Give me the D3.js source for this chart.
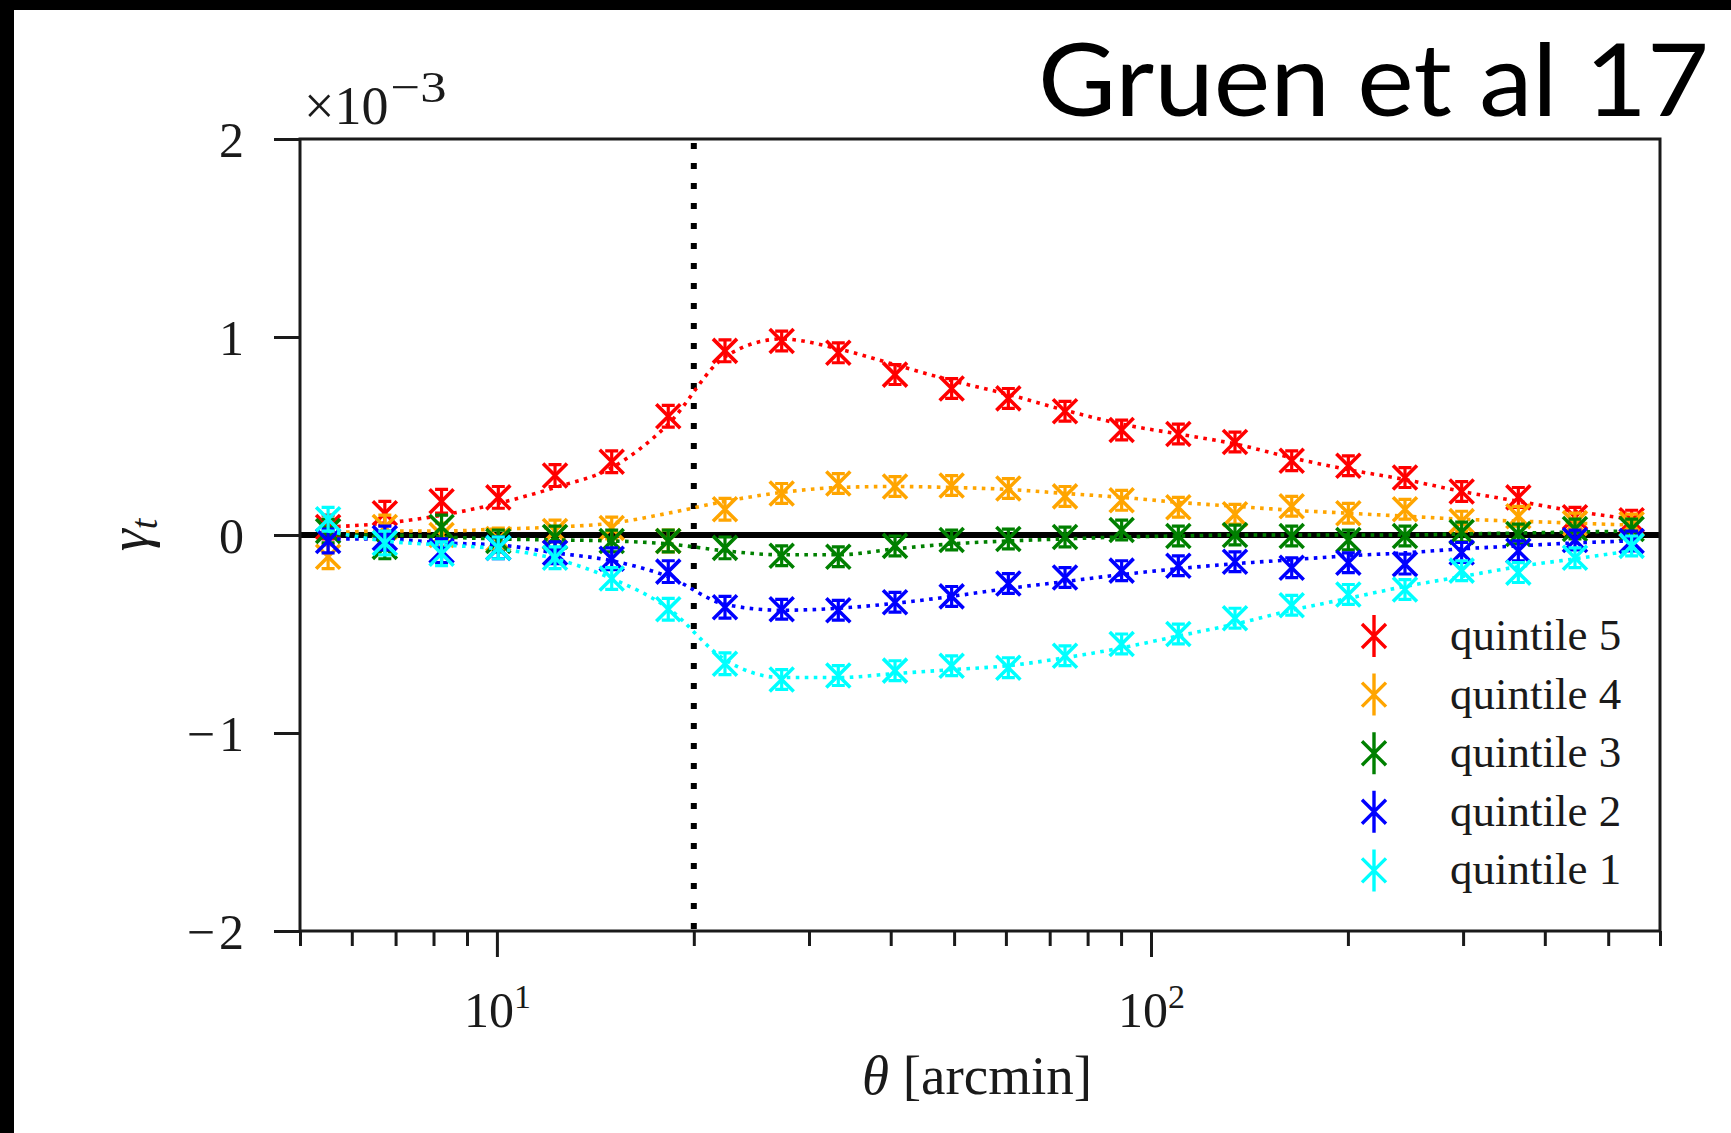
<!DOCTYPE html>
<html>
<head>
<meta charset="utf-8">
<script src="https://cdn.jsdelivr.net/npm/d3@7"></script>
<style>
  html, body { margin: 0; padding: 0; background: #fff; }
  svg { display: block; }
</style>
</head>
<body>
<svg id="chart" width="1731" height="1133"></svg>
<script>
// Angular bins (arcmin), log-spaced between 5 and 600
const theta = [5.52, 6.74, 8.23, 10.05, 12.27, 14.98, 18.28, 22.32, 27.25, 33.26, 40.61, 49.57,
               60.52, 73.88, 90.18, 110.1, 134.4, 164.1, 200.3, 244.5, 298.5, 364.4, 444.8, 543.0];

// Measured tangential shear gamma_t (units of 1e-3) per density quintile
const quintile5 = [0.04, 0.11, 0.17, 0.19, 0.30, 0.37, 0.60, 0.93, 0.98, 0.92, 0.81, 0.74,
                   0.69, 0.625, 0.53, 0.51, 0.47, 0.375, 0.35, 0.29, 0.22, 0.19, 0.09, 0.075];
const quintile4 = [-0.11, 0.04, 0.0, -0.02, 0.02, 0.035, -0.03, 0.13, 0.21, 0.26, 0.245, 0.25,
                   0.235, 0.195, 0.175, 0.14, 0.105, 0.145, 0.11, 0.13, 0.07, 0.095, 0.06, 0.055];
const quintile3 = [0.02, -0.06, 0.04, -0.03, -0.01, -0.03, -0.03, -0.065, -0.105, -0.11, -0.055, -0.025,
                   -0.02, -0.01, 0.025, -0.005, 0.0, -0.005, -0.025, -0.005, 0.015, 0.005, 0.03, 0.03];
const quintile2 = [-0.03, -0.015, -0.08, -0.065, -0.09, -0.12, -0.185, -0.365, -0.375, -0.38, -0.34, -0.31,
                   -0.245, -0.215, -0.18, -0.155, -0.135, -0.165, -0.14, -0.147, -0.088, -0.08, -0.025, -0.03];
const quintile1 = [0.08, -0.04, -0.095, -0.065, -0.115, -0.22, -0.375, -0.65, -0.73, -0.71, -0.685, -0.66,
                   -0.67, -0.61, -0.55, -0.50, -0.42, -0.355, -0.30, -0.275, -0.18, -0.19, -0.115, -0.055];

// Model prediction per quintile at the same angular bins (dotted curves)
const model5 = [0.04, 0.06, 0.10, 0.16, 0.24, 0.34, 0.56, 0.90, 0.99, 0.94, 0.86, 0.78,
                0.71, 0.63, 0.56, 0.51, 0.46, 0.39, 0.33, 0.28, 0.22, 0.17, 0.12, 0.08];
const model4 = [0.01, 0.02, 0.02, 0.03, 0.04, 0.06, 0.11, 0.17, 0.215, 0.24, 0.245, 0.24,
                0.23, 0.21, 0.19, 0.165, 0.145, 0.125, 0.11, 0.095, 0.08, 0.07, 0.06, 0.05];
const model3 = [0.0, 0.0, -0.01, -0.02, -0.025, -0.03, -0.045, -0.08, -0.10, -0.10, -0.07, -0.045,
                -0.03, -0.02, -0.01, -0.005, 0.0, 0.0, 0.0, 0.0, 0.005, 0.01, 0.015, 0.02];
const model2 = [-0.02, -0.02, -0.04, -0.05, -0.09, -0.13, -0.21, -0.35, -0.38, -0.37, -0.345, -0.31,
                -0.27, -0.235, -0.20, -0.17, -0.145, -0.125, -0.105, -0.09, -0.07, -0.055, -0.04, -0.03];
const model1 = [0.02, -0.03, -0.05, -0.07, -0.12, -0.22, -0.37, -0.63, -0.72, -0.72, -0.70, -0.68,
                -0.66, -0.62, -0.57, -0.51, -0.45, -0.38, -0.32, -0.26, -0.21, -0.16, -0.12, -0.08];

// 1-sigma uncertainty per bin (units of 1e-3)
const errBar = [0.06, 0.06, 0.06, 0.055, 0.055, 0.055, 0.055, 0.055, 0.05, 0.05, 0.05, 0.05,
                0.05, 0.05, 0.05, 0.05, 0.05, 0.05, 0.05, 0.05, 0.05, 0.05, 0.05, 0.05];

const seriesLabels = ["quintile 5", "quintile 4", "quintile 3", "quintile 2", "quintile 1"];
const seriesColors = ["#ff0000", "#ffa500", "#008000", "#0000ff", "#00ffff"];
const seriesValues = [quintile5, quintile4, quintile3, quintile2, quintile1];
const seriesModels = [model5, model4, model3, model2, model1];

const yTicks = [-2, -1, 0, 1, 2];
const xMajorTicks = [10, 100];
const xMinorTicks = [5, 6, 7, 8, 9, 20, 30, 40, 50, 60, 70, 80, 90, 200, 300, 400, 500, 600];
const thetaCut = 20;

const svg = d3.select("#chart");
const W = 1731, H = 1133;
const plot = { left: 300, right: 1660, top: 139, bottom: 931 };
const serif = "'Liberation Serif', 'DejaVu Serif', serif";
const ink = "#1a1a1a";

// slide frame: dark bars along the left and top edges
svg.append("rect").attr("x", 0).attr("y", 0).attr("width", W).attr("height", H).attr("fill", "#fff");
svg.append("rect").attr("x", 0).attr("y", 0).attr("width", 14).attr("height", H).attr("fill", "#000");
svg.append("rect").attr("x", 0).attr("y", 0).attr("width", W).attr("height", 10).attr("fill", "#000");

const x = d3.scaleLog().domain([5, 600]).range([plot.left, plot.right]);
const y = d3.scaleLinear().domain([-2, 2]).range([plot.bottom, plot.top]);

// zero reference line
svg.append("line")
  .attr("x1", plot.left).attr("x2", plot.right)
  .attr("y1", y(0)).attr("y2", y(0))
  .attr("stroke", "#000").attr("stroke-width", 6);

// scale cut marker
svg.append("line")
  .attr("x1", x(thetaCut)).attr("x2", x(thetaCut))
  .attr("y1", plot.top + 4).attr("y2", plot.bottom)
  .attr("stroke", "#000").attr("stroke-width", 6)
  .attr("stroke-dasharray", "6,14");

const line = d3.line()
  .x((d, i) => x(theta[i]))
  .y(d => y(d))
  .curve(d3.curveMonotoneX);

const markHalf = 12, capHalf = 6.5;

seriesValues.forEach((vals, si) => {
  const color = seriesColors[si];
  const g = svg.append("g");
  g.append("path")
    .attr("d", line(seriesModels[si]))
    .attr("fill", "none")
    .attr("stroke", color)
    .attr("stroke-width", 3.6)
    .attr("stroke-dasharray", "3.6,5.4");

  const pts = g.selectAll("g.pt").data(vals).enter().append("g")
    .attr("class", "pt")
    .attr("transform", (d, i) => `translate(${x(theta[i])},${y(d)})`);

  pts.append("path")
    .attr("d", `M${-markHalf},${-markHalf}L${markHalf},${markHalf}M${-markHalf},${markHalf}L${markHalf},${-markHalf}`)
    .attr("stroke", color).attr("stroke-width", 3.6).attr("fill", "none");

  pts.append("path")
    .attr("d", (d, i) => {
      const up = y(d + errBar[i]) - y(d), dn = y(d - errBar[i]) - y(d);
      return `M0,${up}L0,${dn}M${-capHalf},${up}L${capHalf},${up}M${-capHalf},${dn}L${capHalf},${dn}`;
    })
    .attr("stroke", color).attr("stroke-width", 3.2).attr("fill", "none");
});

// frame
svg.append("rect")
  .attr("x", plot.left).attr("y", plot.top)
  .attr("width", plot.right - plot.left).attr("height", plot.bottom - plot.top)
  .attr("fill", "none").attr("stroke", ink).attr("stroke-width", 3);

// y axis
const yAxis = d3.axisLeft(y).tickValues(yTicks).tickSize(26).tickPadding(30)
  .tickFormat(d => d < 0 ? "\u2212\u200a" + Math.abs(d) : String(d));
const gy = svg.append("g").attr("transform", `translate(${plot.left},0)`).call(yAxis);
gy.select(".domain").remove();
gy.selectAll(".tick line").attr("stroke", ink).attr("stroke-width", 3);
gy.selectAll(".tick text").attr("font-family", serif).attr("font-size", 50).attr("fill", ink)
  .attr("dy", "0.34em");

// x axis: decades with superscript labels, plus minor ticks
const xAxis = d3.axisBottom(x).tickValues(xMajorTicks).tickSize(26).tickPadding(30).tickFormat("");
const gx = svg.append("g").attr("transform", `translate(0,${plot.bottom})`).call(xAxis);
gx.select(".domain").remove();
gx.selectAll(".tick line").attr("stroke", ink).attr("stroke-width", 3);
gx.selectAll(".tick text").remove();
gx.selectAll(".tick").append("text")
  .attr("y", 96).attr("text-anchor", "middle")
  .attr("font-family", serif).attr("font-size", 50).attr("fill", ink)
  .each(function (d) {
    const t = d3.select(this);
    t.append("tspan").text("10");
    t.append("tspan").attr("font-size", 34).attr("dy", -19).text(String(Math.round(Math.log10(d))));
  });

const xMinorAxis = d3.axisBottom(x).tickValues(xMinorTicks).tickSize(15).tickFormat("");
const gxm = svg.append("g").attr("transform", `translate(0,${plot.bottom})`).call(xMinorAxis);
gxm.select(".domain").remove();
gxm.selectAll(".tick line").attr("stroke", ink).attr("stroke-width", 3);

// axis titles
const xt = svg.append("text")
  .attr("x", 977).attr("y", 1094).attr("text-anchor", "middle")
  .attr("font-family", serif).attr("font-size", 55).attr("fill", ink);
xt.append("tspan").attr("font-style", "italic").text("\u03b8");
xt.append("tspan").text(" [arcmin]");

const yt = svg.append("text")
  .attr("transform", `translate(148,${y(0)}) rotate(-90)`)
  .attr("text-anchor", "middle")
  .attr("font-family", serif).attr("font-size", 56).attr("fill", ink);
yt.append("tspan").attr("font-style", "italic").text("\u03b3");
yt.append("tspan").attr("font-style", "italic").attr("font-size", 38).attr("dy", 9).text("t");

// multiplier above the y axis
const mult = svg.append("text")
  .attr("x", 304).attr("y", 124)
  .attr("font-family", serif).attr("font-size", 54).attr("fill", ink);
mult.append("tspan").text("\u00d710");
mult.append("tspan").attr("font-size", 44).attr("dx", 2).attr("dy", -22)
  .attr("textLength", 56).attr("lengthAdjust", "spacingAndGlyphs").text("\u22123");

// legend
const legend = svg.append("g");
seriesLabels.forEach((lab, i) => {
  const cy = 636 + i * 58.6, cx = 1374;
  const lg = legend.append("g").attr("transform", `translate(${cx},${cy})`);
  lg.append("path")
    .attr("d", `M0,-21L0,21M${-12},${-12}L12,12M${-12},12L12,${-12}`)
    .attr("stroke", seriesColors[i]).attr("stroke-width", 3.4).attr("fill", "none");
  legend.append("text")
    .attr("x", 1450).attr("y", cy + 14)
    .attr("font-family", serif).attr("font-size", 45).attr("fill", ink)
    .text(lab);
});

// citation
svg.append("text")
  .attr("x", 1709).attr("y", 116).attr("text-anchor", "end")
  .attr("font-family", "Lato, 'Open Sans', sans-serif").attr("font-size", 100)
  .attr("font-weight", 400)
  .attr("textLength", 671).attr("lengthAdjust", "spacingAndGlyphs")
  .attr("fill", "#000")
  .text("Gruen et al 17");
</script>
</body>
</html>
